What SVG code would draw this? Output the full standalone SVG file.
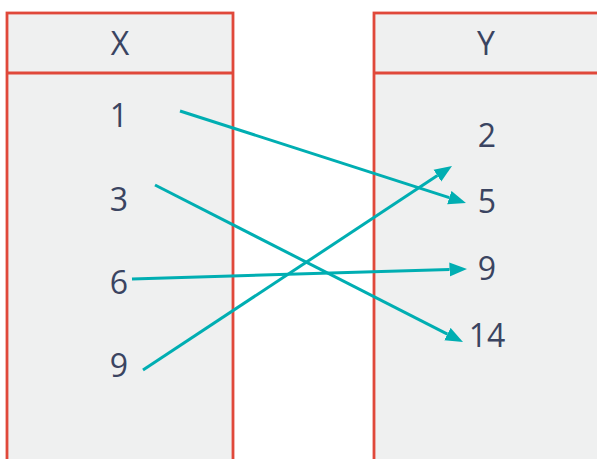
<svg xmlns="http://www.w3.org/2000/svg" width="597" height="459" viewBox="0 0 597 459">
<style>
.box{fill:#eff0f0;stroke:#e0483a;stroke-width:2.8}
.t{font-family:"Open Sans","DejaVu Sans",sans-serif;font-size:32px;fill:#3a4461;text-anchor:middle}
.c{stroke:#00aeb2;stroke-width:3;fill:none}
</style>
<defs>
<marker id="ah" markerUnits="userSpaceOnUse" markerWidth="18" markerHeight="15" viewBox="0 -7.5 18 15" refX="0" refY="0" orient="auto">
<path d="M0,-7 L17.5,0 L0,7 z" fill="#00aeb2"/>
</marker>
</defs>
<rect width="597" height="459" fill="#ffffff"/>
<g id="X">
<rect class="box" x="7" y="13" width="226" height="470"/>
<line x1="7" y1="73" x2="233" y2="73" stroke="#e0483a" stroke-width="2.8"/>
<text class="t" x="120" y="55">X</text>
<text class="t" x="119" y="127">1</text>
<text class="t" x="119" y="211">3</text>
<text class="t" x="119" y="294">6</text>
<text class="t" x="119" y="377">9</text>
</g>
<g id="Y">
<rect class="box" x="374" y="13" width="240" height="470"/>
<line x1="374" y1="73" x2="614" y2="73" stroke="#e0483a" stroke-width="2.8"/>
<text class="t" x="486" y="55">Y</text>
<text class="t" x="487" y="147">2</text>
<text class="t" x="487" y="213">5</text>
<text class="t" x="487" y="280">9</text>
<text class="t" x="487" y="347">14</text>
</g>
<g id="connectors">
<line class="c" x1="180" y1="111" x2="449.3" y2="197.6" marker-end="url(#ah)"/>
<line class="c" x1="155" y1="185" x2="447.4" y2="334.1" marker-end="url(#ah)"/>
<line class="c" x1="132" y1="279" x2="449.5" y2="269.5" marker-end="url(#ah)"/>
<line class="c" x1="143" y1="370" x2="437.4" y2="175.6" marker-end="url(#ah)"/>
</g>
</svg>
